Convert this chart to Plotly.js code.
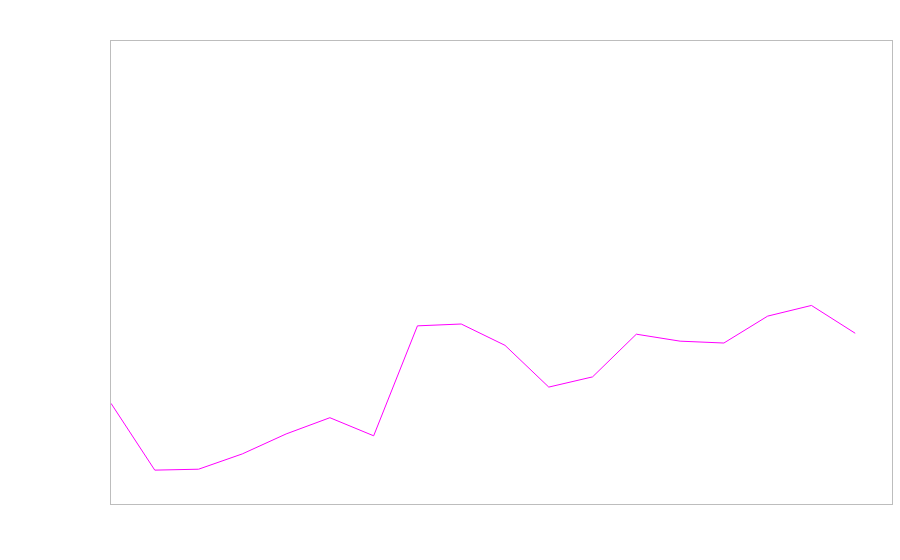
<!DOCTYPE html>
<html>
<head>
<meta charset="utf-8">
<script src="https://cdn.plot.ly/plotly-3.0.1.min.js"></script>
<style>html,body{margin:0;padding:0;background:#fff;}#chart{width:900px;height:560px;}</style>
</head>
<body>
<div id="chart"></div>
<script>
const xIndex = [0,1,2,3,4,5,6,7,8,9,10,11,12,13,14,15,16,17];
const seriesValues = [21.7,7.3,7.5,10.8,15.1,18.6,14.7,38.4,38.8,34.2,25.2,27.4,36.6,35.1,34.7,40.5,42.8,36.8];

const trace = {
  x: xIndex,
  y: seriesValues,
  type: 'scatter',
  mode: 'lines',
  line: {color: '#ff00ff', width: 1},
  hoverinfo: 'none'
};

const axisStyle = {
  showline: true,
  mirror: true,
  linecolor: '#bdbdbd',
  linewidth: 1,
  showgrid: false,
  zeroline: false,
  showticklabels: false,
  ticks: ''
};

const layout = {
  width: 900,
  height: 560,
  margin: {l: 111, r: 8, t: 41, b: 56, pad: 0},
  paper_bgcolor: '#ffffff',
  plot_bgcolor: '#ffffff',
  showlegend: false,
  xaxis: Object.assign({}, axisStyle, {range: [0, 17.84]}),
  yaxis: Object.assign({}, axisStyle, {range: [0, 99.8]})
};

Plotly.newPlot('chart', [trace], layout, {displayModeBar: false, staticPlot: true});
</script>
</body>
</html>
